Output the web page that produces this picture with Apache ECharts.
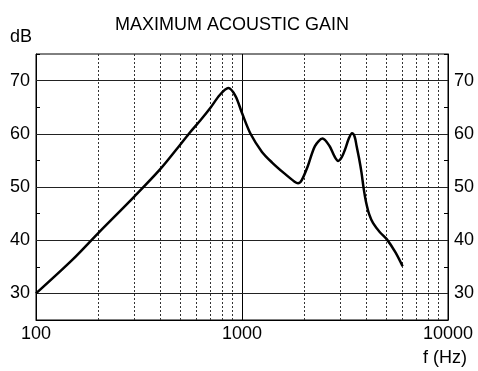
<!DOCTYPE html>
<html>
<head>
<meta charset="utf-8">
<script src="https://cdn.jsdelivr.net/npm/echarts@6/dist/echarts.min.js"></script>
<style>
html,body{margin:0;padding:0;background:#fff;}
#c{width:478px;height:371px;}
</style>
</head>
<body>
<div id="c"></div>
<script>
var freqs = [100,150,200,300,400,500,560,630,700,780,858,930,1000,1100,1250,1400,1600,1800,1870,1950,2090,2260,2460,2660,2800,2930,3050,3160,3300,3420,3520,3600,3700,3800,3900,4000,4150,4330,4670,5040,5560,6020];
var gains = [30,36.3,41.3,48.2,53.3,57.9,60.3,62.6,64.8,67.3,68.6,67.1,63.9,60,56.6,54.6,52.6,51,50.7,51.3,54,57.7,59.1,57.7,55.9,54.9,55.6,57,59.1,60.1,59.5,57.7,55.4,52.8,49.6,47.2,44.8,43.2,41.5,40.2,37.7,35.1];
var minorFreqs = [200,300,400,500,600,700,800,900,2000,3000,4000,5000,6000,7000,8000,9000];
var gridLevels = [30,40,50,60,70];
var chartTitle = 'MAXIMUM ACOUSTIC GAIN';
var yName = 'dB';
var xName = 'f (Hz)';

var font = 'Arial, "Liberation Sans", sans-serif';
var pts = freqs.map(function(f,i){return [f,gains[i]];});

var yAxisBase = function(pos){
  return {
    type:'value', min:25, max:75, interval:5, position:pos,
    axisLine:{show:true,lineStyle:{color:'#000',width:1}},
    axisTick:{show:true,inside:true,length:4,lineStyle:{color:'#000'}},
    splitLine:{show:false},
    axisLabel:{
      fontSize:18, fontFamily:font, color:'#000', margin:6,
      formatter:function(v){return (v%10===0)?String(v):'';}
    }
  };
};

var chart = echarts.init(document.getElementById('c'));
chart.setOption({
  animation:false,
  backgroundColor:'#fff',
  grid:{left:36,right:30,top:54,bottom:51,show:true,borderColor:'#000',borderWidth:1,backgroundColor:'transparent'},
  xAxis:{
    type:'log', logBase:10, min:100, max:10000,
    axisLine:{show:true,lineStyle:{color:'#000'}},
    axisTick:{show:false},
    splitLine:{show:true,lineStyle:{color:'#000',width:1}},
    axisLabel:{fontSize:18,fontFamily:font,color:'#000',margin:5,
      formatter:function(v){return String(Math.round(v));}}
  },
  yAxis:[yAxisBase('left'), yAxisBase('right')],
  graphic:[
    {type:'text',left:115,top:16,style:{text:chartTitle,font:'18px '+font,fill:'#000'}},
    {type:'text',left:10,top:28,style:{text:yName,font:'18px '+font,fill:'#000'}},
    {type:'text',right:11,top:349,style:{text:xName,font:'18px '+font,fill:'#000'}}
  ],
  series:[
    {
      type:'line', data:[], yAxisIndex:0,
      markLine:{
        silent:true, symbol:'none', label:{show:false},
        lineStyle:{color:'#333',type:[2,2],width:1},
        data:minorFreqs.map(function(f){return {xAxis:f};})
      }
    },
    {
      type:'line', data:[], yAxisIndex:0,
      markLine:{
        silent:true, symbol:'none', label:{show:false},
        lineStyle:{color:'#222',type:'solid',width:1},
        data:gridLevels.map(function(v){return {yAxis:v};})
      }
    },
    {
      type:'line', data:pts, yAxisIndex:0, smooth:0.3, showSymbol:false,
      lineStyle:{color:'#000',width:2.5}, z:5
    }
  ]
});
</script>
</body>
</html>
